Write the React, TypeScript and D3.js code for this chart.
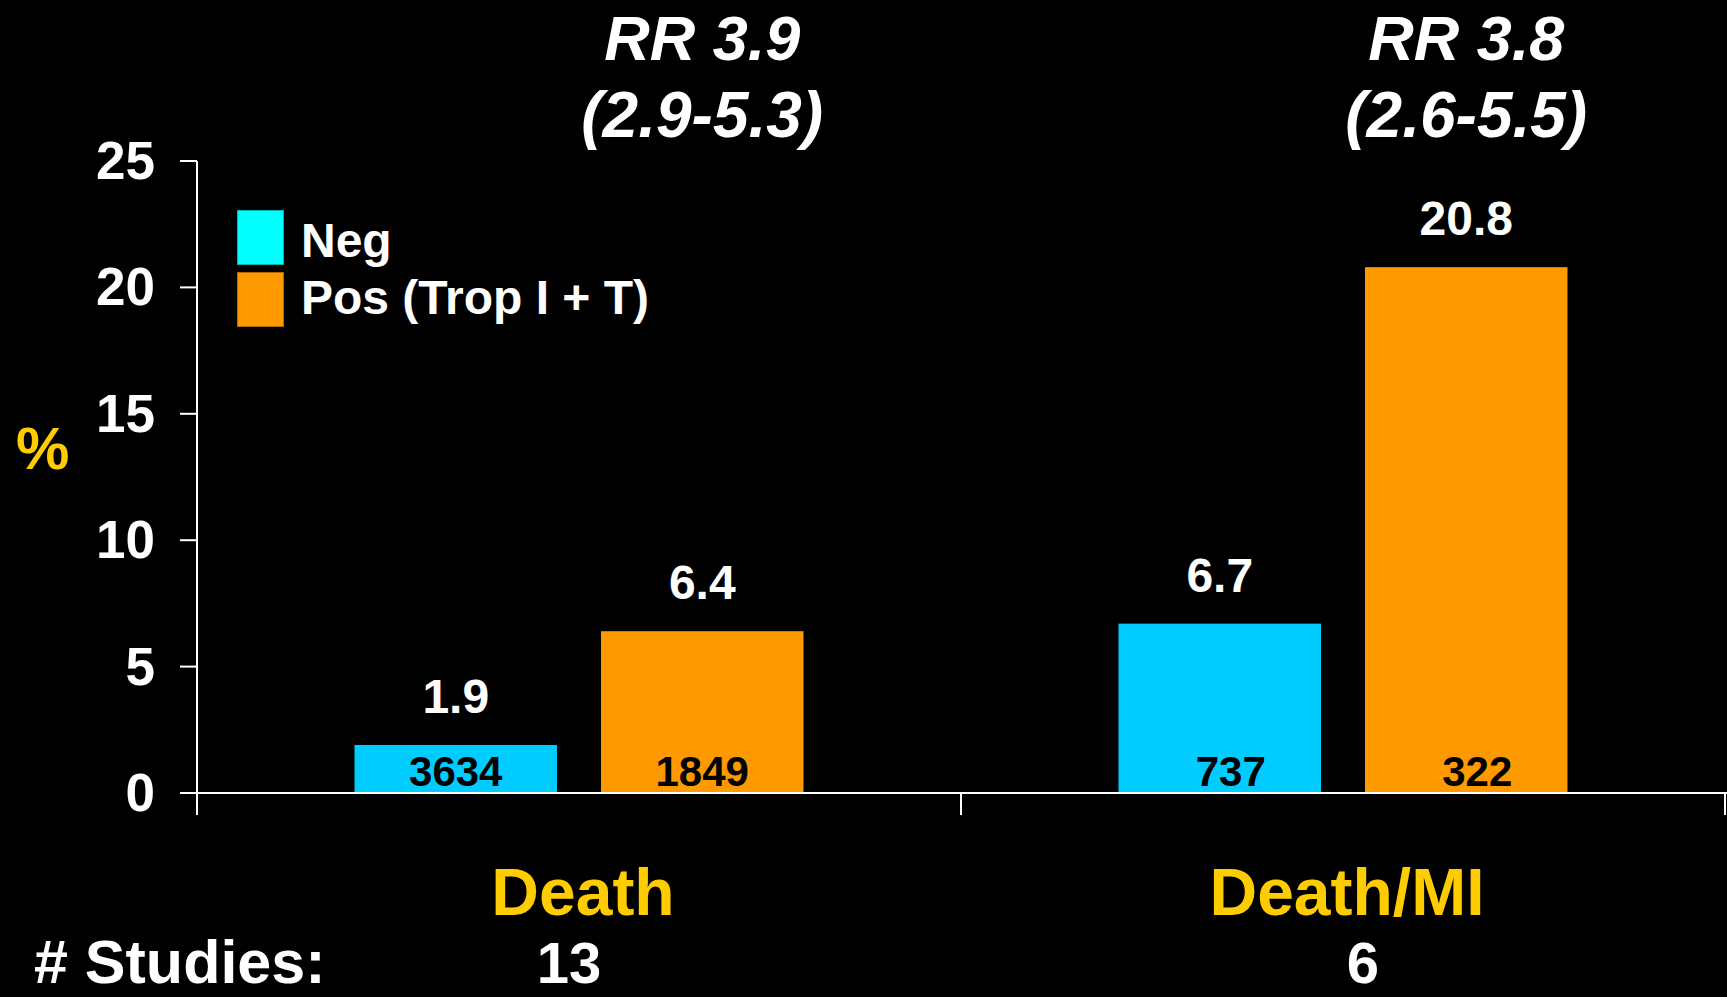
import React from "react";
import * as d3 from "d3";

const categories = ["Death", "Death/MI"];
const seriesKeys = ["Neg", "Pos"];
const legendLabels = ["Neg", "Pos (Trop I + T)"];
const negValues = [1.9, 6.7];
const posValues = [6.4, 20.8];
const negCounts = ["3634", "737"];
const posCounts = ["1849", "322"];
const rrLines1 = ["RR 3.9", "RR 3.8"];
const rrLines2 = ["(2.9-5.3)", "(2.6-5.5)"];
const studies = ["13", "6"];
const yTicks = [0, 5, 10, 15, 20, 25];

const W = 1727;
const H = 997;
const FONT = "'Liberation Sans', Arial, Helvetica, sans-serif";
const barColors: Record<string, string> = { Neg: "#00CCFF", Pos: "#FF9900" };
const legendColors = ["#00FFFF", "#FF9900"];
const legendStroke = ["#00B3B3", "#B36B00"];
const YELLOW = "#FFCC00";
// small per-category horizontal nudges seen in the original slide layout
const countNudge = [0, 11];
const studyNudge = [-10, 20];

export default function App() {
  const x0 = d3.scaleBand<string>().domain(categories).range([197, 1725]).padding(0);
  const x1 = d3
    .scaleBand<string>()
    .domain(seriesKeys)
    .range([0, x0.bandwidth()])
    .paddingInner(0.1785)
    .paddingOuter(0.639);
  const y = d3.scaleLinear().domain([0, 25]).range([793, 161]);

  const axisX = 197;
  const base = y(0);

  const data = categories.map((c, i) => ({
    cat: c,
    idx: i,
    bars: [
      { key: "Neg", value: negValues[i], count: negCounts[i] },
      { key: "Pos", value: posValues[i], count: posCounts[i] },
    ],
  }));

  return (
    <svg
      width={W}
      height={H}
      style={{ position: "absolute", left: 0, top: 0, display: "block" }}
      fontFamily={FONT}
    >
      <rect x={0} y={0} width={W} height={H} fill="#000" />

      {/* bars */}
      {data.map((d) => (
        <g key={d.cat} transform={`translate(${x0(d.cat)},0)`}>
          {d.bars.map((b) => {
            const bx = x1(b.key)!;
            const bw = x1.bandwidth();
            return (
              <g key={b.key}>
                <rect x={bx} y={y(b.value)} width={bw} height={base - y(b.value)} fill={barColors[b.key]} />
                <text
                  x={bx + bw / 2}
                  y={y(b.value) - 32}
                  textAnchor="middle"
                  fill="#fff"
                  fontWeight="bold"
                  fontSize={48}
                >
                  {b.value.toFixed(1)}
                </text>
                <text
                  x={bx + bw / 2 + countNudge[d.idx]}
                  y={786}
                  textAnchor="middle"
                  fill="#000"
                  fontWeight="bold"
                  fontSize={42}
                >
                  {b.count}
                </text>
              </g>
            );
          })}
        </g>
      ))}

      {/* y axis */}
      <line x1={axisX} x2={axisX} y1={y(25)} y2={815} stroke="#fff" strokeWidth={2} />
      {yTicks.map((t) => (
        <g key={t}>
          <line x1={180} x2={axisX} y1={y(t)} y2={y(t)} stroke="#fff" strokeWidth={2} />
          <text
            x={155}
            y={y(t) + 18}
            textAnchor="end"
            fill="#fff"
            fontWeight="bold"
            fontSize={53}
          >
            {t}
          </text>
        </g>
      ))}
      <text x={16} y={469} fill={YELLOW} fontWeight="bold" fontSize={60}>
        %
      </text>

      {/* x axis */}
      <line x1={180} x2={W} y1={base} y2={base} stroke="#fff" strokeWidth={2} />
      {categories.map((c) => (
        <line
          key={c}
          x1={x0(c)! + x0.bandwidth()}
          x2={x0(c)! + x0.bandwidth()}
          y1={base}
          y2={815}
          stroke="#fff"
          strokeWidth={2}
        />
      ))}

      {/* category labels */}
      {categories.map((c, i) => (
        <g key={c}>
          <text
            x={x0(c)! + x0.bandwidth() / 2 + 4}
            y={915}
            textAnchor="middle"
            fill={YELLOW}
            fontWeight="bold"
            fontSize={66}
          >
            {c}
          </text>
          <text
            x={x0(c)! + x0.bandwidth() / 2 + studyNudge[i]}
            y={983}
            textAnchor="middle"
            fill="#fff"
            fontWeight="bold"
            fontSize={58}
          >
            {studies[i]}
          </text>
        </g>
      ))}
      <text x={34} y={983} fill="#fff" fontWeight="bold" fontSize={61}>
        # Studies:
      </text>

      {/* RR labels */}
      {categories.map((c, i) => {
        const cx = x0(c)! + x1("Pos")! + x1.bandwidth() / 2;
        return (
          <g key={c}>
            <text x={cx} y={60} textAnchor="middle" fill="#fff" fontWeight="bold" fontStyle="italic" fontSize={63}>
              {rrLines1[i]}
            </text>
            <text x={cx} y={137} textAnchor="middle" fill="#fff" fontWeight="bold" fontStyle="italic" fontSize={64}>
              {rrLines2[i]}
            </text>
          </g>
        );
      })}

      {/* legend */}
      {legendLabels.map((l, i) => (
        <g key={l}>
          <rect
            x={237.5}
            y={210.5 + i * 62}
            width={46}
            height={54}
            fill={legendColors[i]}
            stroke={legendStroke[i]}
            strokeWidth={1}
          />
          <text x={301} y={257 + i * 57} fill="#fff" fontWeight="bold" fontSize={48}>
            {l}
          </text>
        </g>
      ))}
    </svg>
  );
}
